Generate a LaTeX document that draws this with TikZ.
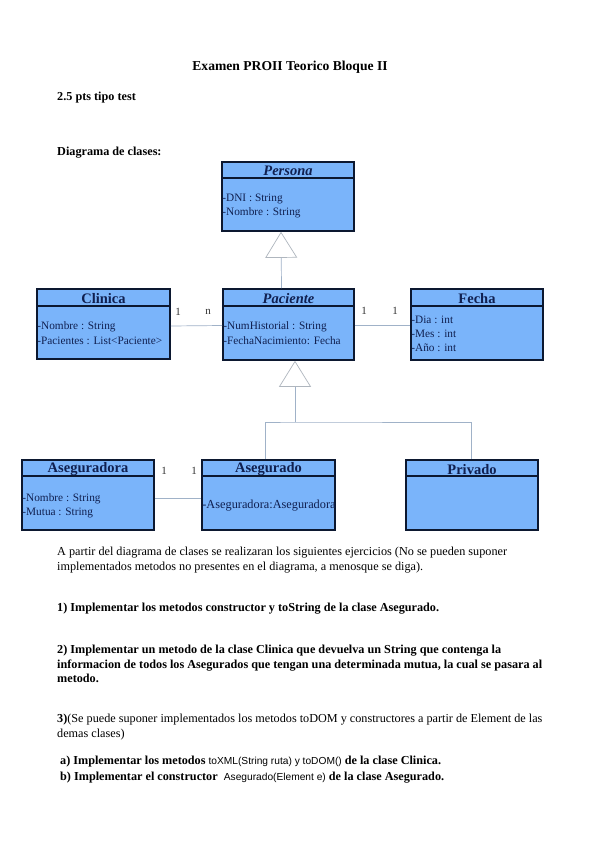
\documentclass[tikz,border=0pt]{standalone}
\usepackage{fontspec}
\setmainfont{Liberation Serif}
\newfontfamily\codefont{Liberation Sans}
\usetikzlibrary{arrows.meta,calc}
\definecolor{boxfill}{RGB}{122,180,250}
\definecolor{boxline}{RGB}{12,24,48}
\definecolor{boxtext}{RGB}{16,32,80}
\definecolor{conn}{RGB}{160,178,200}
\definecolor{tri}{RGB}{175,182,190}
\tikzset{
 cls/.style={draw=boxline, fill=boxfill, line width=1.6pt, minimum width=132pt, minimum height=70pt, inner sep=0pt},
 divider/.style={draw=boxline, line width=1.6pt},
 hdr/.style={font=\fontsize{14.5}{14.5}\selectfont\bfseries, text=boxtext, inner sep=0pt},
 hdri/.style={font=\fontsize{14.5}{14.5}\selectfont\bfseries\itshape, text=boxtext, inner sep=0pt},
 attr/.style={font=\fontsize{11.3}{11.3}\selectfont, text=boxtext, anchor=mid west, inner sep=0pt},
 assoc/.style={draw=conn, line width=0.7pt},
 gen/.style={draw=conn, line width=0.7pt, -{Triangle[open, length=26pt, width=32pt, color=tri]}},
 mult/.style={font=\fontsize{11}{11}\selectfont, text=black!80, inner sep=0pt},
 body/.style={anchor=mid west, inner sep=0pt, font=\fontsize{12.2}{12.2}\selectfont},
 bodyb/.style={anchor=mid west, inner sep=0pt, font=\fontsize{12.2}{12.2}\selectfont\bfseries},
}
\newcommand\codetxt[1]{{\codefont\fontsize{10.2}{10.2}\selectfont\mdseries #1}}
\begin{document}
\begin{tikzpicture}[x=1pt,y=-1pt]
\useasboundingbox[fill=white] (0,0) rectangle (599,848);

% header texts
\node[inner sep=0pt, font=\fontsize{13.6}{13.6}\selectfont\bfseries] (title) at (290,67) {Examen PROII Teorico Bloque II};
\node[bodyb] (pts) at (57,98) {2.5 pts tipo test};
\node[bodyb] (diag) at (57,153) {Diagrama de clases:};

% ---- classes ----
% Persona
\node[cls, minimum width=132pt, minimum height=69pt] (persona) at (288,196.5) {};
\draw[divider] ([yshift=-17pt]persona.north west) -- ([yshift=-17pt]persona.north east);
\node[hdri] (personaT) at ([yshift=-10pt]persona.north) {Persona};
\node[attr] (personaA1) at ([xshift=1pt,yshift=-38.5pt]persona.north west) {-DNI : String};
\node[attr] (personaA2) at ([xshift=1pt,yshift=-52.5pt]persona.north west) {-Nombre : String};

% Clinica
\node[cls, minimum width=133pt, minimum height=70pt] (clinica) at (103.5,324) {};
\draw[divider] ([yshift=-18pt]clinica.north west) -- ([yshift=-18pt]clinica.north east);
\node[hdr] (clinicaT) at ([yshift=-10pt]clinica.north) {Clinica};
\node[attr] (clinicaA1) at ([xshift=1pt,yshift=-39pt]clinica.north west) {-Nombre : String};
\node[attr] (clinicaA2) at ([xshift=1pt,yshift=-54pt]clinica.north west) {-Pacientes : List<Paciente>};

% Paciente
\node[cls, minimum width=131pt, minimum height=71pt] (paciente) at (288.5,324.5) {};
\draw[divider] ([yshift=-18pt]paciente.north west) -- ([yshift=-18pt]paciente.north east);
\node[hdri] (pacienteT) at ([yshift=-10pt]paciente.north) {Paciente};
\node[attr] (pacienteA1) at ([xshift=1pt,yshift=-39pt]paciente.north west) {-NumHistorial : String};
\node[attr] (pacienteA2) at ([xshift=1pt,yshift=-54pt]paciente.north west) {-FechaNacimiento: Fecha};

% Fecha
\node[cls, minimum width=132pt, minimum height=71pt] (fecha) at (477,324.5) {};
\draw[divider] ([yshift=-18pt]fecha.north west) -- ([yshift=-18pt]fecha.north east);
\node[hdr] (fechaT) at ([yshift=-10pt]fecha.north) {Fecha};
\node[attr] (fechaA1) at ([xshift=1pt,yshift=-33pt]fecha.north west) {-Dia : int};
\node[attr] (fechaA2) at ([xshift=1pt,yshift=-47pt]fecha.north west) {-Mes : int};
\node[attr] (fechaA3) at ([xshift=1pt,yshift=-61pt]fecha.north west) {-Año : int};

% Aseguradora
\node[cls, minimum width=132pt, minimum height=70pt] (aseguradora) at (88,495) {};
\draw[divider] ([yshift=-17pt]aseguradora.north west) -- ([yshift=-17pt]aseguradora.north east);
\node[hdr] (aseguradoraT) at ([yshift=-10pt]aseguradora.north) {Aseguradora};
\node[attr] (aseguradoraA1) at ([xshift=1pt,yshift=-40pt]aseguradora.north west) {-Nombre : String};
\node[attr] (aseguradoraA2) at ([xshift=1pt,yshift=-54pt]aseguradora.north west) {-Mutua : String};

% Asegurado
\node[cls, minimum width=133pt, minimum height=70pt] (asegurado) at (268.5,495) {};
\draw[divider] ([yshift=-17pt]asegurado.north west) -- ([yshift=-17pt]asegurado.north east);
\node[hdr] (aseguradoT) at ([yshift=-10pt]asegurado.north) {Asegurado};
\node[attr, font=\fontsize{12.3}{12.3}\selectfont] (aseguradoA1) at ([xshift=1pt,yshift=-47pt]asegurado.north west) {-Aseguradora:Aseguradora};

% Privado
\node[cls, minimum width=132pt, minimum height=70pt] (privado) at (472,495) {};
\draw[divider] ([yshift=-17pt]privado.north west) -- ([yshift=-17pt]privado.north east);
\node[hdr] (privadoT) at ([yshift=-10pt]privado.north) {Privado};

% ---- connectors ----
\draw[gen] ([xshift=-7pt]paciente.north) -- ([xshift=-7pt]persona.south);
\coordinate (junc) at (295,422);
\draw[assoc] ([xshift=-3.5pt]asegurado.north) |- (junc) -| ([xshift=-1pt]privado.north);
\draw[gen] (junc) -- ([xshift=6.5pt]paciente.south);

\draw[assoc] ([yshift=-2pt]clinica.east) -- ([yshift=-1pt]paciente.west);
\node[mult] (m1) at (178,312) {1};
\node[mult] (m2) at (208,312) {n};
\draw[assoc] ([yshift=-0.5pt]paciente.east) -- ([yshift=-0.5pt]fecha.west);
\node[mult] (m3) at (364,311) {1};
\node[mult] (m4) at (395,311) {1};
\draw[assoc] ([yshift=-3pt]aseguradora.east) -- ([yshift=-3pt]asegurado.west);
\node[mult] (m5) at (164,471) {1};
\node[mult] (m6) at (194,471) {1};

% ---- exercise text ----
\node[body] (p1) at (57,553) {A partir del diagrama de clases se realizaran los siguientes ejercicios (No se pueden suponer};
\node[body] (p2) at (57,568) {implementados metodos no presentes en el diagrama, a menosque se diga).};
\node[bodyb] (e1) at (57,609) {1) Implementar los metodos constructor  y toString de la clase Asegurado.};
\node[bodyb] (e2a) at (57,651) {2) Implementar un metodo de la clase Clinica que devuelva un String que contenga la};
\node[bodyb] (e2b) at (57,666) {informacion de todos los Asegurados que tengan una determinada mutua, la cual se pasara al};
\node[bodyb] (e2c) at (57,680) {metodo.};
\node[body] (e3a) at (57,720) {\textbf{3)}(Se puede suponer implementados los metodos toDOM y constructores a partir de Element de las};
\node[body] (e3b) at (57,735) {demas clases)};
\node[bodyb] (e3c) at (60,762) {a) Implementar los metodos \codetxt{toXML(String ruta) y toDOM()} de la clase Clinica.};
\node[bodyb] (e3d) at (60,778) {b) Implementar el constructor \ \codetxt{Asegurado(Element e)} de la clase Asegurado.};
\end{tikzpicture}
\end{document}
